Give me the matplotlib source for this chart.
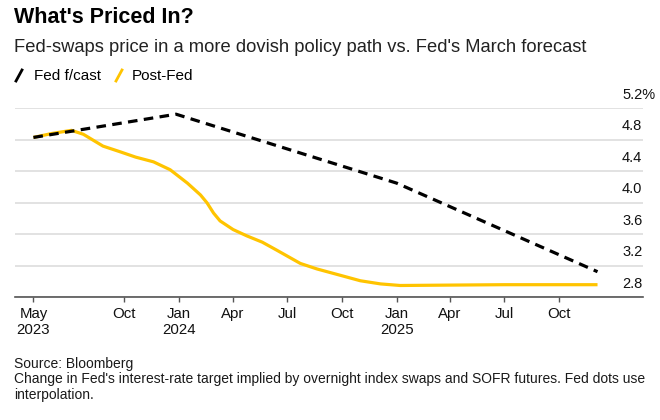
import matplotlib
matplotlib.use("Agg")
import matplotlib.pyplot as plt
from matplotlib.lines import Line2D
from matplotlib.transforms import blended_transform_factory
import pandas as pd

# Fed March forecast (dots, interpolated)
fed_dates = ["2023-05-01", "2023-12-27", "2025-01-01", "2025-12-05"]
fed_values = [4.83, 5.125, 4.25, 3.125]

# Post-Fed swaps pricing
post_dates = [
    "2023-05-01", "2023-06-01", "2023-07-04", "2023-07-24", "2023-08-26",
    "2023-09-23", "2023-10-20", "2023-11-19", "2023-12-17", "2024-01-15",
    "2024-02-06", "2024-02-17", "2024-02-28", "2024-03-10", "2024-04-01",
    "2024-04-24", "2024-05-20", "2024-06-13", "2024-07-23", "2024-08-20",
    "2024-09-28", "2024-11-01", "2024-12-05", "2025-01-07", "2025-04-01",
    "2025-07-01", "2025-12-05",
]
post_values = [
    4.83, 4.88, 4.92, 4.87, 4.72,
    4.65, 4.58, 4.52, 4.42, 4.25,
    4.10, 4.00, 3.87, 3.77, 3.66,
    3.58, 3.50, 3.40, 3.23, 3.16,
    3.08, 3.01, 2.97, 2.95, 2.955,
    2.96, 2.96,
]

y_ticks = [2.8, 3.2, 3.6, 4.0, 4.4, 4.8, 5.2]
y_labels = ["2.8", "3.2", "3.6", "4.0", "4.4", "4.8", "5.2%"]
x_ticks = ["2023-05-01", "2023-10-01", "2024-01-01", "2024-04-01", "2024-07-01",
           "2024-10-01", "2025-01-01", "2025-04-01", "2025-07-01", "2025-10-01"]
x_labels = ["May\n2023", "Oct", "Jan\n2024", "Apr", "Jul", "Oct",
            "Jan\n2025", "Apr", "Jul", "Oct"]

YELLOW = "#FFC400"
W, H = 660, 420

plt.rcParams["font.family"] = ["Liberation Sans", "DejaVu Sans"]

fig = plt.figure(figsize=(6.6, 4.2), dpi=100)
ax = fig.add_axes([15 / W, 1 - 297.3 / H, 627.7 / W, 189 / H])

ax.plot(pd.to_datetime(post_dates), post_values, color=YELLOW, lw=2.3,
        solid_capstyle="butt", zorder=3)
ax.plot(pd.to_datetime(fed_dates), fed_values, color="black", lw=2.3,
        dashes=(3.0, 2.0), zorder=4)

ax.set_xlim(pd.Timestamp("2023-03-31"), pd.Timestamp("2026-02-19"))
ax.set_ylim(2.8, 5.2)

ax.set_xticks(pd.to_datetime(x_ticks))
ax.set_xticklabels(x_labels, fontsize=10.8, color="#111111", linespacing=1.15)
ax.set_yticks(y_ticks)
ax.yaxis.grid(True, color="#e2e2e2", lw=1.4)
ax.tick_params(axis="y", length=0, labelleft=False)
ax.tick_params(axis="x", length=3.3, width=1, color="#555555", pad=4)

for s in ["top", "right", "left"]:
    ax.spines[s].set_visible(False)
ax.spines["bottom"].set_color("#555555")
ax.spines["bottom"].set_linewidth(1.2)
ax.set_axisbelow(True)

trans = blended_transform_factory(ax.transAxes, ax.transData)
for v, lab in zip(y_ticks, y_labels):
    ax.annotate(lab, xy=(607 / 627.7, v), xycoords=trans, xytext=(0, 9.7),
                textcoords="offset points", ha="left", va="center",
                fontsize=10.5, color="#111111", annotation_clip=False)

# header
fig.text(14 / W, 1 - 7 / H, "What's Priced In?", fontsize=15.5, fontweight="bold",
         va="top", ha="left", color="black")
fig.text(14 / W, 1 - 39 / H,
         "Fed-swaps price in a more dovish policy path vs. Fed's March forecast",
         fontsize=13.2, va="top", ha="left", color="#222222")

# legend
fig.add_artist(Line2D([16 / W, 22 / W], [1 - 81 / H, 1 - 70 / H], color="black",
                      lw=2, transform=fig.transFigure))
fig.text(34 / W, 1 - 75.5 / H, "Fed f/cast", fontsize=11, va="center", ha="left")
fig.add_artist(Line2D([116 / W, 122 / W], [1 - 81 / H, 1 - 70 / H], color=YELLOW,
                      lw=2, transform=fig.transFigure))
fig.text(132 / W, 1 - 75.5 / H, "Post-Fed", fontsize=11, va="center", ha="left")

# footer
fig.text(14 / W, 1 - 357 / H,
         "Source: Bloomberg\n"
         "Change in Fed's interest-rate target implied by overnight index swaps and SOFR futures. Fed dots use\n"
         "interpolation.",
         fontsize=10, va="top", ha="left", color="#1a1a1a", linespacing=1.12)

fig.savefig("out.png", dpi=100)
